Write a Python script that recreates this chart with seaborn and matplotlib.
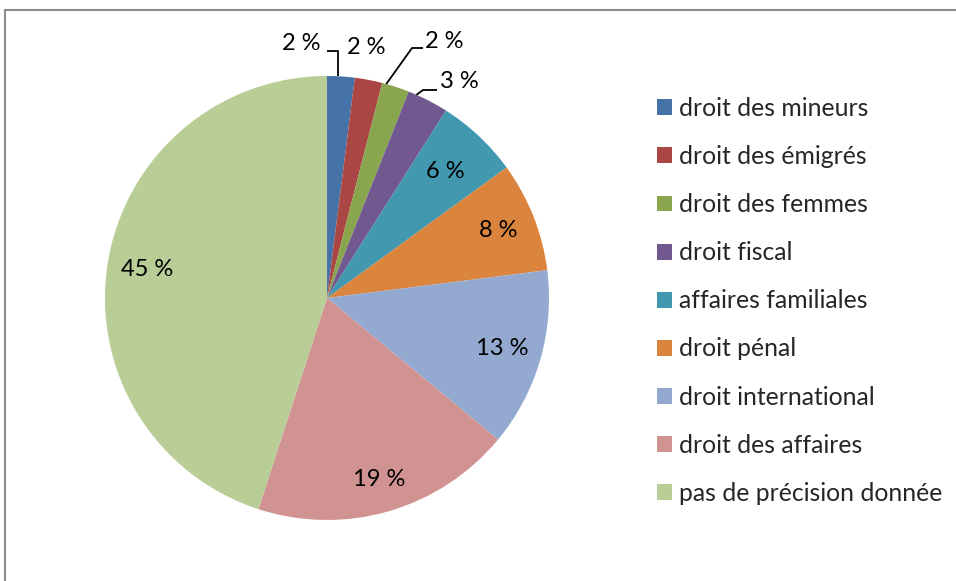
import matplotlib
matplotlib.use("Agg")
import numpy as np
import matplotlib.pyplot as plt
import seaborn as sns
from matplotlib.patches import Rectangle

# Répartition des demandes par domaine du droit (en %)
categories = [
    "droit des mineurs",
    "droit des émigrés",
    "droit des femmes",
    "droit fiscal",
    "affaires familiales",
    "droit pénal",
    "droit international",
    "droit des affaires",
    "pas de précision donnée",
]
shares = [2, 2, 2, 3, 6, 8, 13, 19, 45]
slice_colors = ["#4572A7", "#AA4643", "#89A54E", "#71588F", "#4198AF",
                "#DB843D", "#93A9CF", "#D19392", "#B9CD96"]

sns.set_theme(style="white")
plt.rcParams["font.family"] = ["Lato", "DejaVu Sans"]

W, H = 956, 581
fig = plt.figure(figsize=(W / 100, H / 100), dpi=100)
fig.patch.set_facecolor("white")

# pie placed by pixel geometry: centre and radius
cx, cy, R = 327, 298, 222
ax = fig.add_axes([(cx - R) / W, (H - cy - R) / H, 2 * R / W, 2 * R / H])
palette = sns.color_palette(slice_colors)
wedges, _ = ax.pie(shares, colors=palette, startangle=90, counterclock=False,
                   radius=1, wedgeprops=dict(linewidth=0))
ax.set_xlim(-1, 1)
ax.set_ylim(-1, 1)
ax.set_aspect("equal")
ax.axis("off")


def px(x, y):
    """pixel position -> pie data coordinates"""
    return (x - cx) / R, (cy - y) / R


def edge_point(w, frac=0.5, r=1.0):
    """point on the rim of a wedge, frac of the way from its leading edge"""
    a = np.deg2rad(w.theta2 + (w.theta1 - w.theta2) * frac)
    return r * np.cos(a), r * np.sin(a)


label_font = dict(fontsize=17, color="black")

# large slices: labels inside
label_radius = [0.78, 0.83, 0.82, 0.85, 0.82]
for w, v, r in zip(wedges[4:], shares[4:], label_radius):
    x, y = edge_point(w, 0.5, r)
    ax.text(x, y, f"{v} %", ha="center", va="center", **label_font)

line_kw = dict(color="black", lw=1.3, solid_capstyle="butt", clip_on=False)

# slice 0: label left of leader, elbow then straight down
a0x, a0y = edge_point(wedges[0], 0.4)
tx, ty = px(321, 44)
ey = px(0, 51)[1]
ax.text(tx, ty, f"{shares[0]} %", ha="right", va="center", **label_font)
ax.plot([px(327, 0)[0], a0x, a0x], [ey, ey, a0y], **line_kw)

# slice 1: label just above the slice, no leader
tx, ty = px(366, 48)
ax.text(tx, ty, f"{shares[1]} %", ha="center", va="center", **label_font)

# slice 2: diagonal leader
a2x, a2y = edge_point(wedges[2], 0.15)
e1 = px(412, 48)
e2 = px(423, 48)
ax.plot([a2x, e1[0], e2[0]], [a2y, e1[1], e2[1]], **line_kw)
tx, ty = px(425, 42)
ax.text(tx, ty, f"{shares[2]} %", ha="left", va="center", **label_font)

# slice 3: short leader
a3x, a3y = edge_point(wedges[3], 0.2)
e1 = px(423, 90)
e2 = px(437, 90)
ax.plot([a3x, e1[0], e2[0]], [a3y, e1[1], e2[1]], **line_kw)
tx, ty = px(440, 81)
ax.text(tx, ty, f"{shares[3]} %", ha="left", va="center", **label_font)

# legend
fig.legend(wedges, categories, loc="upper left",
           bbox_to_anchor=(657 / W, 1 - 97 / H), frameon=False,
           fontsize=17.8, handlelength=0.61, handleheight=0.61,
           handletextpad=0.28, labelspacing=1.015, borderpad=0,
           borderaxespad=0)

# chart border
fig.add_artist(Rectangle((5 / W, -0.1), 1.2, 1 - 10 / H + 0.1,
                         transform=fig.transFigure, fill=False,
                         edgecolor="#8c8c8c", lw=1.5))

fig.savefig("out.png", dpi=100, facecolor="white")
